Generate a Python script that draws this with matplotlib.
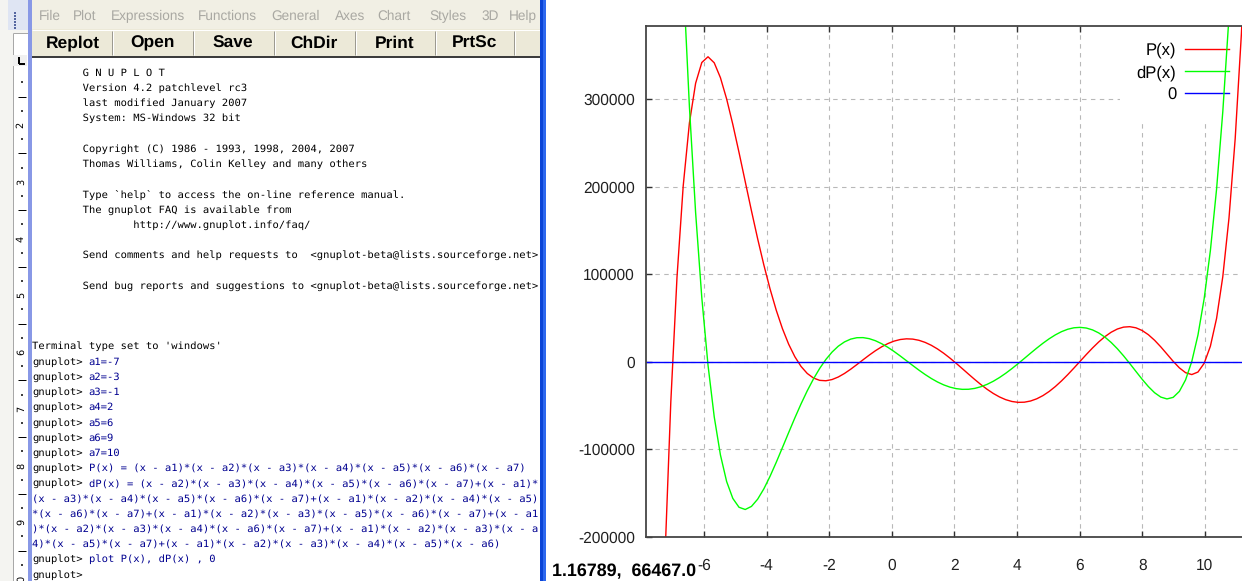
import matplotlib
matplotlib.use("Agg")
import matplotlib.pyplot as plt
import numpy as np
from matplotlib.patches import Rectangle

# unhinted text so the console columns scale exactly with the font size
plt.rcParams["text.hinting"] = "no_hinting"

W, H = 1242, 581

# roots typed into the gnuplot session (a1..a7)
roots = [-7, -3, -1, 2, 6, 9, 10]
x_ticks = [-6, -4, -2, 0, 2, 4, 6, 8, 10]
y_ticks = [-200000, -100000, 0, 100000, 200000, 300000]
x_range = (-7.85, 11.76)
y_range = (-200000, 383300)
n_samples = 100
status_text = "1.16789,  66467.0"

menu_items = ["File", "Plot", "Expressions", "Functions", "General",
              "Axes", "Chart", "Styles", "3D", "Help"]
menu_x = [39, 73, 111, 198, 271, 335, 377, 429, 481, 509]
buttons = ["Replot", "Open", "Save", "ChDir", "Print", "PrtSc", "Exit"]
button_edges = [33, 112, 193, 273.5, 354.5, 434.5, 514, 595]

banner = [
    "        G N U P L O T",
    "        Version 4.2 patchlevel rc3",
    "        last modified January 2007",
    "        System: MS-Windows 32 bit",
    "",
    "        Copyright (C) 1986 - 1993, 1998, 2004, 2007",
    "        Thomas Williams, Colin Kelley and many others",
    "",
    "        Type `help` to access the on-line reference manual.",
    "        The gnuplot FAQ is available from",
    "                http://www.gnuplot.info/faq/",
    "",
    "        Send comments and help requests to  <gnuplot-beta@lists.sourceforge.net>",
    "",
    "        Send bug reports and suggestions to <gnuplot-beta@lists.sourceforge.net>",
    "",
    "",
    "",
    "Terminal type set to 'windows'",
]
commands = [f"a{i + 1}={r}" for i, r in enumerate(roots)] + [
    "P(x) = (x - a1)*(x - a2)*(x - a3)*(x - a4)*(x - a5)*(x - a6)*(x - a7)",
    "dP(x) = (x - a2)*(x - a3)*(x - a4)*(x - a5)*(x - a6)*(x - a7)+(x - a1)*",
    "(x - a3)*(x - a4)*(x - a5)*(x - a6)*(x - a7)+(x - a1)*(x - a2)*(x - a4)*(x - a5)",
    "*(x - a6)*(x - a7)+(x - a1)*(x - a2)*(x - a3)*(x - a5)*(x - a6)*(x - a7)+(x - a1",
    ")*(x - a2)*(x - a3)*(x - a4)*(x - a6)*(x - a7)+(x - a1)*(x - a2)*(x - a3)*(x - a",
    "4)*(x - a5)*(x - a7)+(x - a1)*(x - a2)*(x - a3)*(x - a4)*(x - a5)*(x - a6)",
    "plot P(x), dP(x) , 0",
    "",
]
wrapped = {9, 10, 11, 12}  # continuation lines of the dP definition

fig = plt.figure(figsize=(W / 100, H / 100), dpi=100)
bg = fig.add_axes([0, 0, 1, 1])
bg.set_xlim(0, W)
bg.set_ylim(H, 0)
bg.axis("off")


def rect(x0, y0, x1, y1, color, z=1):
    bg.add_patch(Rectangle((x0, y0), x1 - x0, y1 - y0, facecolor=color,
                           edgecolor="none", zorder=z))


def hline(x0, x1, y, color, px=1, z=2):
    bg.plot([x0, x1], [y, y], color=color, lw=px * 0.72, zorder=z,
            solid_capstyle="butt")


def vline(x, y0, y1, color, px=1, z=2):
    bg.plot([x, x], [y0, y1], color=color, lw=px * 0.72, zorder=z,
            solid_capstyle="butt")


# left strip, grip and ruler
rect(0, 0, 28, H, "#f4f4f1")
rect(8, 0, 28, 30, "#dfe5f3")
for yy in range(12, 28, 3):
    rect(14, yy, 16, yy + 1.5, "#5466a0", z=2)
rect(13, 33, 28, H, "white")
vline(13, 33, H, "#a8a8a8")
hline(13, 28, 33, "#a8a8a8")
rect(13, 55, 27, 66, "#f0f0f0", z=2)
vline(19, 57, 64, "black", px=2, z=3)
hline(19, 25, 64, "black", px=2, z=3)
step = 56.75
for d in range(2, 11):
    yd = 125 + step * (d - 2)
    bg.text(21, yd, str(d % 10), rotation=90, fontsize=7, ha="center",
            va="center", family="DejaVu Sans", zorder=3)
    for k in (1, 2, 3):
        ym = yd - step + k * step / 4
        if ym < 70:
            continue
        if k == 2:
            hline(18, 26, ym, "black", px=1, z=3)
        else:
            hline(20.5, 22.5, ym, "black", px=1.5, z=3)
rect(28, 0, 32, H, "#8898e6", z=2)

# menu bar and buttons
rect(32, 0, 540, 29, "#f1efe4")
rect(32, 29, 540, 56, "#ece9d8")
hline(32, 540, 29.5, "#ffffff")
for name, mx in zip(menu_items, menu_x):
    bg.text(mx, 20, name, fontsize=9.8, color="#a9a8a2", ha="left",
            va="baseline", family="Liberation Sans", zorder=3)
for i, name in enumerate(buttons):
    cx = (button_edges[i] + button_edges[i + 1]) / 2
    bg.text(cx, 47.5, name, fontsize=12.5, fontweight="bold", ha="center",
            va="baseline", family="Liberation Sans", zorder=3)
for ex in button_edges[1:-1]:
    vline(ex, 31, 55, "#9c9a90")
    vline(ex + 1, 31, 55, "#ffffff")
hline(32, 540, 56.5, "#3c3c3c", px=2, z=3)
rect(32, 57.5, 540, H, "white")

# console text: 80 columns of 6.3 px fill the window
char_w = 6.3
mono_fs = char_w / 0.60205 * 0.72
row_h = 15.2


def row_y(n):
    return 73 + row_h * n


for n, line in enumerate(banner):
    bg.text(32, row_y(n), line, fontsize=mono_fs, family="DejaVu Sans Mono",
            color="black", ha="left", va="center", zorder=3)
for j, cmd in enumerate(commands):
    y = row_y(len(banner) + j)
    if j in wrapped:
        bg.text(32, y, cmd, fontsize=mono_fs, family="DejaVu Sans Mono",
                color="#000090", ha="left", va="center", zorder=3)
        continue
    bg.text(32, y, "gnuplot>", fontsize=mono_fs, family="DejaVu Sans Mono",
            color="black", ha="left", va="center", zorder=3)
    if cmd:
        bg.text(32 + 9 * char_w, y, cmd, fontsize=mono_fs,
                family="DejaVu Sans Mono", color="#000090", ha="left",
                va="center", zorder=3)

# window frame and plot window background
rect(546, 0, W, H, "white", z=4)
rect(540, 0, 543, H, "#0b44d6", z=5)
rect(543, 0, 546, H, "#2d68ee", z=5)
bg.text(552, 572, status_text, fontsize=12.9, fontweight="bold",
        family="Liberation Sans", ha="left", va="center", zorder=6)

# the gnuplot graph
x_px0, x_px1, y_px0, y_px1 = 646, 1260, 26, 537
ax = fig.add_axes([x_px0 / W, (H - y_px1) / H, (x_px1 - x_px0) / W,
                   (y_px1 - y_px0) / H])
ax.set_facecolor("none")
xs = np.linspace(x_range[0], x_range[1], n_samples)
p_coef = np.poly(roots)
dp_coef = np.polyder(p_coef)
ax.plot(xs, np.polyval(p_coef, xs), color="#ff0000", lw=1.0, label="P(x)")
ax.plot(xs, np.polyval(dp_coef, xs), color="#00ff00", lw=1.0, label="dP(x)")
ax.axhline(0, color="#0000ff", lw=1.0, label="0")
ax.set_xlim(*x_range)
ax.set_ylim(*y_range)
ax.set_xticks(x_ticks)
ax.set_yticks(y_ticks)
ax.set_xticklabels([str(v) for v in x_ticks])
ax.set_yticklabels([str(v) for v in y_ticks])
ax.set_axisbelow(True)
ax.grid(True, color="#b8b8b8", linestyle=(0, (4, 4)), lw=0.8)
for side in ax.spines.values():
    side.set_color("#454545")
    side.set_linewidth(1.3)
ax.tick_params(direction="in", length=4, width=1, color="#303030",
               top=True, right=True, labelsize=11.2, labelcolor="#202020")
ax.tick_params(axis="y", pad=8)
ax.tick_params(axis="x", pad=15.5)
for lab in ax.get_xticklabels() + ax.get_yticklabels():
    lab.set_family("Liberation Sans")

leg = ax.legend(loc="upper right", bbox_to_anchor=(0.976, 1.0),
                borderaxespad=0, frameon=True, facecolor="white",
                edgecolor="none", framealpha=1, fancybox=False,
                markerfirst=False, handlelength=2.6, handletextpad=0.55,
                labelspacing=0.38, borderpad=1.0,
                prop={"family": "Liberation Sans", "size": 12})
leg.set_zorder(1.5)

fig.savefig("out.png", dpi=100)
